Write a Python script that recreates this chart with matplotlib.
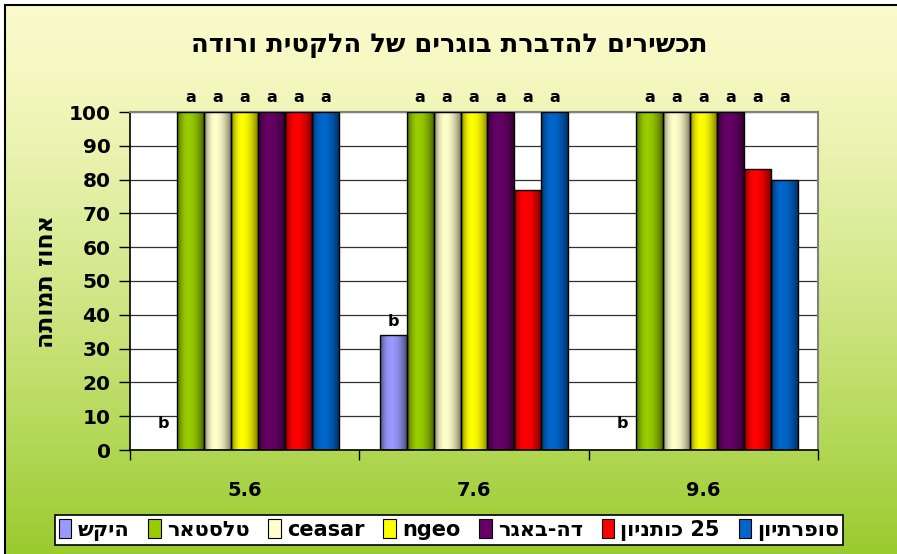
import re
import numpy as np
import matplotlib
matplotlib.use('Agg')
from matplotlib import pyplot as plt
from matplotlib.patches import Rectangle, Patch

plt.rcParams['font.family'] = ['DejaVu Sans']
plt.rcParams['font.weight'] = 'bold'

title = 'תכשירים להדברת בוגרים של הלקטית ורודה'
ylabel = 'אחוז תמותה'
dates = ['5.6', '7.6', '9.6']
series = ['היקש', 'טלסטאר', 'ceasar', 'ngeo', 'דה-באגר', 'כותניון 25', 'סופרתיון']
colors = ['#9999FF', '#99CC00', '#FFFFCC', '#FFFF00', '#660066', '#FF0000', '#0066CC']
values = [
    [0, 34, 0],        # היקש
    [100, 100, 100],   # טלסטאר
    [100, 100, 100],   # ceasar
    [100, 100, 100],   # ngeo
    [100, 100, 100],   # דה-באגר
    [100, 77, 83],     # כותניון 25
    [100, 100, 80],    # סופרתיון
]
letters = [
    ['b', 'b', 'b'],
    ['a', 'a', 'a'],
    ['a', 'a', 'a'],
    ['a', 'a', 'a'],
    ['a', 'a', 'a'],
    ['a', 'a', 'a'],
    ['a', 'a', 'a'],
]

def vis(s):
    # matplotlib has no bidi, so flip hebrew runs into visual order
    return re.sub(r'[\u0590-\u05FF][\u0590-\u05FF\s\-]*[\u0590-\u05FF]|[\u0590-\u05FF]',
                  lambda m: m.group(0)[::-1], s)

def shade(t, p=0.4, emin=0.5):
    # cylinder look: bright a bit left of centre, dark at both edges
    d = np.where(t < p, (p - t) / p, (t - p) / (1 - p))
    return 1 - (1 - emin) * d ** 2

W, H = 897, 554
fig = plt.figure(figsize=(W / 100, H / 100), dpi=100)

# gradient background with the frame
bg = fig.add_axes([5 / W, 0, 1 - 5 / W, 1 - 5 / H], zorder=-5)
top = np.array([251, 251, 203]) / 255
bot = np.array([154, 203, 46]) / 255
g = np.linspace(0, 1, 256)[:, None, None] ** 1.3
bg.imshow(top + (bot - top) * g, aspect='auto', extent=[0, 1, 0, 1])
bg.axis('off')
fig.patches.append(Rectangle((5 / W, -0.1), 1.2, 1.1 - 5 / H, transform=fig.transFigure,
                             fill=False, edgecolor='black', lw=1.5, zorder=10))

ax = fig.add_axes([130 / W, 104 / H, 688 / W, 338 / H])
ax.set_facecolor('white')

n = len(series)
gap = 1.5
bw = 1.0 / (n + gap)
t = np.linspace(0, 1, 64)
for i, (name, col) in enumerate(zip(series, colors)):
    base = np.array(matplotlib.colors.to_rgb(col))
    grad = (base[None, :] * shade(t)[:, None])[None, :, :]
    for j, v in enumerate(values[i]):
        x0 = j + gap * bw / 2 + i * bw
        if v > 0:
            r = Rectangle((x0, 0), bw, v, facecolor='none', edgecolor='black', lw=1, zorder=3)
            ax.add_patch(r)
            im = ax.imshow(grad, extent=[x0, x0 + bw, 0, v], aspect='auto', zorder=2)
            im.set_clip_path(r)
        # the 'a' letters sit in one row above the scale top, 'b' over its own bar
        if letters[i][j] == 'a':
            ly, off = 100, 15
        else:
            ly, off = v, (14 if v > 0 else 26)
        ax.annotate(letters[i][j], (x0 + bw / 2, ly), xytext=(0, off), textcoords='offset pixels',
                    ha='center', va='center', fontsize=11.5, fontweight='bold', annotation_clip=False)

ax.set_xlim(0, 3)
ax.set_ylim(0, 100)
ax.set_yticks(np.arange(0, 101, 10))
ax.set_xticks([0.5, 1.5, 2.5])
ax.set_xticklabels(dates, fontsize=14, fontweight='bold')
ax.set_xticks([0, 1, 2, 3], minor=True)
ax.tick_params(axis='x', which='major', length=0, pad=22)
ax.tick_params(axis='x', which='minor', length=7, width=1, direction='out')
ax.tick_params(axis='y', length=8, width=1, direction='out', labelsize=14.5, pad=6)
for lab in ax.get_yticklabels():
    lab.set_fontweight('bold')
ax.grid(axis='y', color='#303030', lw=0.9, zorder=1)
ax.set_axisbelow(True)
for s in ['top', 'right']:
    ax.spines[s].set_color('#808080')
    ax.spines[s].set_linewidth(1.5)
for s in ['left', 'bottom']:
    ax.spines[s].set_linewidth(1.2)

ax.set_ylabel(vis(ylabel), fontsize=17, fontweight='bold')
ax.yaxis.set_label_coords(-0.105, 0.5)
fig.text(449 / W, 1 - 45 / H, vis(title), ha='center', va='center', fontsize=18.5, fontweight='bold')

handles = [Patch(facecolor=c, edgecolor='black', lw=0.8) for c in colors]
leg = fig.legend(handles, [vis(s) for s in series], loc='center', bbox_to_anchor=(449 / W, 1 - 530 / H),
                 ncol=n, frameon=True, fancybox=False, edgecolor='black', framealpha=1,
                 prop={'size': 15, 'weight': 'bold'}, handlelength=0.6, handleheight=1.0,
                 handletextpad=0.3, columnspacing=0.9, borderpad=0.2, borderaxespad=0)
leg.get_frame().set_linewidth(1.2)

fig.savefig('out.png', dpi=100)
